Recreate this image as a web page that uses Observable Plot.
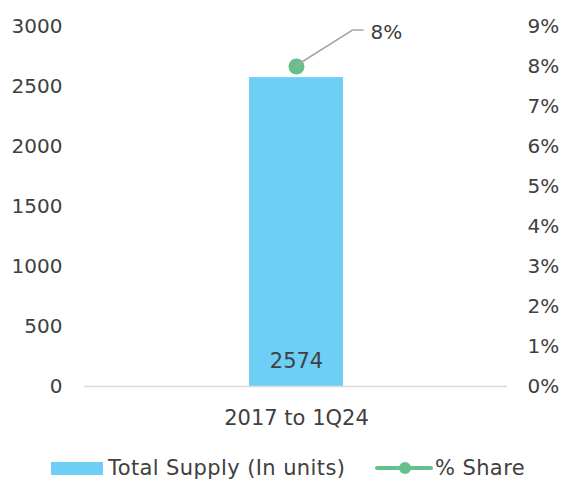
<!DOCTYPE html>
<html>
<head>
<meta charset="utf-8">
<script src="https://cdn.jsdelivr.net/npm/d3@7"></script>
<script src="https://cdn.jsdelivr.net/npm/@observablehq/plot@0.6"></script>
<style>
  html, body { margin: 0; padding: 0; background: #fff; }
  body { width: 562px; height: 482px; overflow: hidden; font-family: "DejaVu Sans", sans-serif; color: #404040; }
  #legend { position: relative; height: 42px; width: 562px; font-size: 21px; letter-spacing: 0.4px; }
  .sw { position: absolute; }
  .lt { position: absolute; top: 15px; line-height: 26px; white-space: nowrap; }
</style>
</head>
<body>
<div id="chart"></div>
<div id="legend">
  <div class="sw" style="left:51px; top:22px; width:52px; height:13px; background:#6DCFF6"></div>
  <div class="lt" style="left:108px">Total Supply (In units)</div>
  <svg class="sw" style="left:374px; top:18px" width="60" height="20">
    <line x1="3" x2="57" y1="10" y2="10" stroke="#66C08C" stroke-width="4" stroke-linecap="round"></line>
    <circle cx="31" cy="10" r="6" fill="#66C08C"></circle>
  </svg>
  <div class="lt" style="left:435px">% Share</div>
</div>
<script>
// Data
const categories = ["2017 to 1Q24"];
const totalSupply = [2574];
const shareValues = [0.08];
const leftTicks = [0, 500, 1000, 1500, 2000, 2500, 3000];
const rightTicks = [0, 0.01, 0.02, 0.03, 0.04, 0.05, 0.06, 0.07, 0.08, 0.09];

const yMax = 3000, pctMax = 0.09;
const k = yMax / pctMax; // map % onto left scale
const rows = categories.map((c, i) => ({cat: c, supply: totalSupply[i], share: shareValues[i]}));

const textColor = "#404040";
const font = "'DejaVu Sans', sans-serif";

const chart = Plot.plot({
  width: 562,
  height: 440,
  marginTop: 26,
  marginBottom: 54,
  marginLeft: 84,
  marginRight: 55,
  style: {fontFamily: font, fontSize: "20px", color: textColor, background: "#fff"},
  x: {domain: categories, padding: 0.636, label: null},
  y: {domain: [0, yMax], label: null},
  marks: [
    Plot.axisY(leftTicks, {anchor: "left", tickSize: 0, tickPadding: 22, fontSize: 20, fill: textColor, tickFormat: d => String(d), label: null}),
    Plot.axisY(rightTicks.map(p => p * k), {anchor: "right", tickSize: 0, tickPadding: 20, fontSize: 20, fill: textColor, textAnchor: "start", tickFormat: d => Math.round(d / k * 100) + "%", label: null}),
    Plot.axisX({tickSize: 0, tickPadding: 24, fontSize: 21, fill: textColor, label: null}),
    Plot.barY(rows, {x: "cat", y: "supply", fill: "#6DCFF6"}),
    Plot.ruleY([0], {stroke: "#D9D9D9", strokeWidth: 1.5}),
    Plot.text(rows, {x: "cat", y: 0, text: d => String(d.supply), dy: -25, fontSize: 21, fill: textColor}),
    Plot.dot(rows, {x: "cat", y: d => d.share * k, r: 8, fill: "#66C08C"}),
    Plot.text(rows, {x: "cat", y: d => d.share * k, text: d => Math.round(d.share * 100) + "%", dx: 74, dy: -34, textAnchor: "start", fontSize: 20, fill: textColor})
  ]
});

// Leader line from the share dot to its label, positioned via the plot's scales
const xs = chart.scale("x"), ys = chart.scale("y");
const sx = d3.scaleBand(xs.domain, xs.range).paddingInner(xs.paddingInner ?? 0.636).paddingOuter(xs.paddingOuter ?? 0.636).align(xs.align ?? 0.5);
const sy = d3.scaleLinear(ys.domain, ys.range);
const dotG = d3.select(chart).selectAll("circle").nodes()[0];
rows.forEach(d => {
  const cx = sx(d.cat) + sx.bandwidth() / 2;
  const cy = sy(d.share * k);
  const path = document.createElementNS("http://www.w3.org/2000/svg", "path");
  path.setAttribute("d", `M${cx},${cy}L${cx + 57},${cy - 36}L${cx + 68},${cy - 36}`);
  path.setAttribute("fill", "none");
  path.setAttribute("stroke", "#A6A6A6");
  path.setAttribute("stroke-width", "1.5");
  if (dotG) dotG.parentNode.parentNode.appendChild(path); else chart.appendChild(path);
});
document.getElementById("chart").appendChild(chart);
</script>
</body>
</html>
